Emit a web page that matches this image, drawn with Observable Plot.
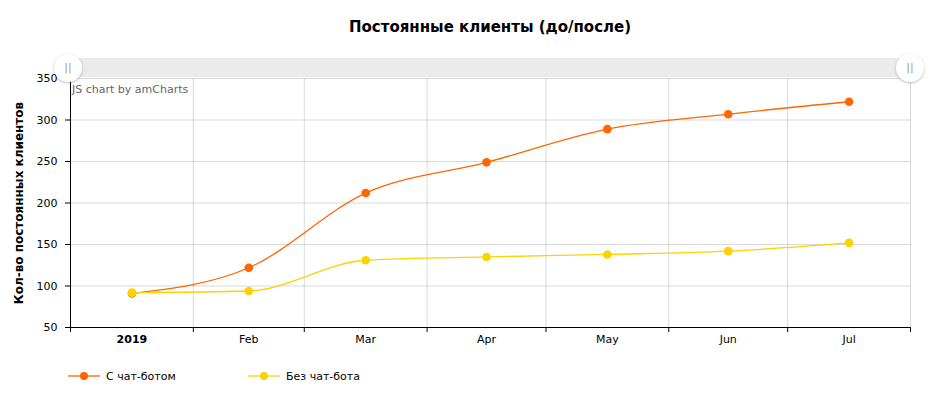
<!DOCTYPE html>
<html>
<head>
<meta charset="utf-8">
<script src="https://cdn.jsdelivr.net/npm/d3@7"></script>
<script src="https://cdn.jsdelivr.net/npm/@observablehq/plot@0.6"></script>
<style>
  html, body { margin: 0; padding: 0; background: #fff; }
  body { width: 931px; height: 399px; position: relative; overflow: hidden;
         font-family: Verdana, "DejaVu Sans", sans-serif; }
  #title { position: absolute; top: 18px; left: 70px; width: 840px; text-align: center;
           font-weight: bold; font-size: 15px; color: #000; }
  #chart { position: absolute; top: 50px; left: 0; }
  #scroll { position: absolute; top: 58px; left: 70px; width: 840px; height: 19px; background: #ebebeb; }
  .grip { position: absolute; top: 54px; width: 28px; height: 28px; border-radius: 50%;
          background: #fff; box-shadow: 0 1px 3px rgba(0,0,0,0.25); color: #999;
          font-size: 11px; line-height: 28px; text-align: center; }
  #wm { position: absolute; top: 83px; left: 72px; font-size: 11px; color: #666; }
  #legend { position: absolute; top: 369px; left: 68px; display: flex; font-size: 11px; color: #000; }
  .item { display: flex; align-items: center; width: 180px; }
  .item svg { margin-right: 6px; }
</style>
</head>
<body>
<div id="title">Постоянные клиенты (до/после)</div>
<div id="chart"></div>
<div id="scroll"></div>
<div class="grip" style="left:54px">||</div>
<div class="grip" style="left:896px">||</div>
<div id="wm">JS chart by amCharts</div>
<div id="legend"></div>
<script>
// ---- data ----
const months = ["2019-01", "2019-02", "2019-03", "2019-04", "2019-05", "2019-06", "2019-07"];
const monthLabels = ["2019", "Feb", "Mar", "Apr", "May", "Jun", "Jul"];
const withBot = [91, 122, 212, 249, 289, 307, 322];
const withoutBot = [92, 94, 131, 135, 138, 142, 152];
const seriesNames = ["С чат-ботом", "Без чат-бота"];
const seriesColors = ["#FF6600", "#FCD202"];
const yTicks = [50, 100, 150, 200, 250, 300, 350];
const yTitle = "Кол-во постоянных клиентов";

const parse = d3.utcParse("%Y-%m");
const starts = months.map(parse);
const ends = starts.map(d => d3.utcMonth.offset(d, 1));
const mids = starts.map((d, i) => new Date((+d + +ends[i]) / 2));
const boundaries = [starts[0], ...ends];

const rows = [];
[withBot, withoutBot].forEach((vals, s) => {
  vals.forEach((v, i) => rows.push({date: mids[i], value: v, series: seriesNames[s]}));
});

const labelFor = new Map(mids.map((d, i) => [+d, monthLabels[i]]));

const font = "Verdana, 'DejaVu Sans', sans-serif";
const chart = Plot.plot({
  width: 931,
  height: 310,
  marginLeft: 70,
  marginRight: 21,
  marginTop: 28,
  marginBottom: 33,
  style: {fontFamily: font, fontSize: "11px", color: "#000", background: "transparent"},
  x: {type: "utc", domain: [boundaries[0], boundaries[boundaries.length - 1]]},
  y: {domain: [50, 350]},
  color: {domain: seriesNames, range: seriesColors},
  marks: [
    Plot.gridY(yTicks, {stroke: "#000", strokeOpacity: 0.15}),
    Plot.gridX(boundaries.slice(1), {stroke: "#000", strokeOpacity: 0.15}),
    Plot.ruleY([50], {stroke: "#000"}),
    Plot.ruleX([boundaries[0]], {stroke: "#000"}),
    Plot.axisY({ticks: yTicks, tickSize: 5, tickPadding: 8, label: null}),
    Plot.axisY({ticks: [], label: yTitle, labelAnchor: "center", labelArrow: "none",
                labelOffset: 56, fontWeight: "bold", fontSize: 12}),
    Plot.axisX({ticks: boundaries, tickSize: 5, tickFormat: () => "", label: null}),
    Plot.axisX({ticks: mids.slice(0, 1), tickSize: 0, tickPadding: 8, fontWeight: "bold",
                tickFormat: d => labelFor.get(+d), label: null}),
    Plot.axisX({ticks: mids.slice(1), tickSize: 0, tickPadding: 8,
                tickFormat: d => labelFor.get(+d), label: null}),
    Plot.line(rows, {x: "date", y: "value", z: "series", stroke: "series",
                     strokeWidth: 1.3, curve: "monotone-x"}),
    Plot.dot(rows, {x: "date", y: "value", fill: "series", r: 4.3})
  ]
});
document.getElementById("chart").appendChild(chart);

// legend
const legend = d3.select("#legend");
seriesNames.forEach((name, i) => {
  const item = legend.append("div").attr("class", "item");
  const svg = item.append("svg").attr("width", 32).attr("height", 14);
  svg.append("line").attr("x1", 0).attr("x2", 32).attr("y1", 7).attr("y2", 7)
     .attr("stroke", seriesColors[i]).attr("stroke-width", 1.3);
  svg.append("circle").attr("cx", 16).attr("cy", 7).attr("r", 4).attr("fill", seriesColors[i]);
  item.append("span").text(name);
});
</script>
</body>
</html>
